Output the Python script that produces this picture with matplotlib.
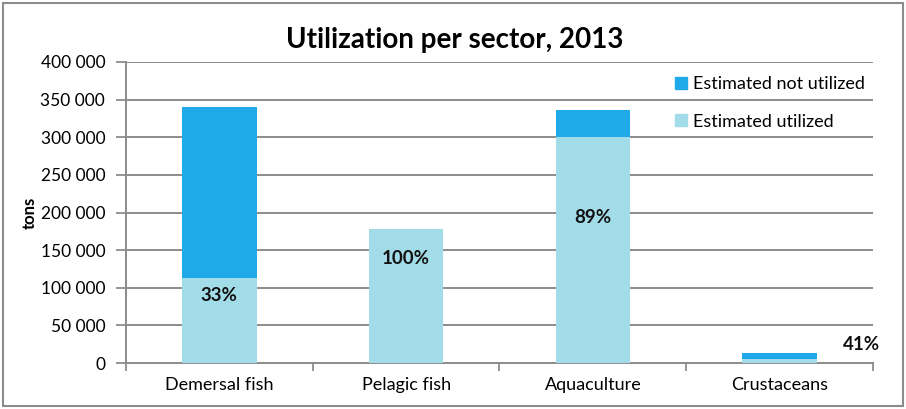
import matplotlib
matplotlib.use("Agg")
import matplotlib.pyplot as plt
from matplotlib.patches import Patch, Rectangle

categories = ["Demersal fish", "Pelagic fish", "Aquaculture", "Crustaceans"]
utilized = [113000, 178000, 300000, 5300]
not_utilized = [227000, 0, 36000, 7700]
pct_labels = ["33%", "100%", "89%", "41%"]
pct_x = [0, 1, 2, 3.44]
pct_y = [90000, 139500, 192700, 24000]
yticks = [0, 50000, 100000, 150000, 200000, 250000, 300000, 350000, 400000]

plt.rcParams['font.family'] = ['Lato', 'DejaVu Sans']

fig = plt.figure(figsize=(9.06, 4.09), dpi=100)
ax = fig.add_axes([126/906, 1-363/409, (873-126)/906, (363-62)/409])

dark = "#1FA9E8"
light = "#A2DCE8"
x = list(range(len(categories)))
ax.bar(x, utilized, width=0.4, color=light, zorder=3, label="Estimated utilized")
ax.bar(x, not_utilized, width=0.4, bottom=utilized, color=dark, zorder=3,
       label="Estimated not utilized")

for xi, yi, t in zip(pct_x, pct_y, pct_labels):
    ax.text(xi, yi, t, ha="center", va="center", fontsize=13.5, fontweight="bold",
            color="#111111", zorder=4, clip_on=False)

ax.set_xlim(-0.5, 3.5)
ax.set_ylim(0, 400000)
ax.set_yticks(yticks)
ax.set_yticklabels([f"{v:,}".replace(",", " ") for v in yticks], fontsize=12.5)
ax.set_xticks(x)
ax.set_xticklabels(categories, fontsize=13)
ax.set_xticks([-0.5, 0.5, 1.5, 2.5, 3.5], minor=True)
ax.tick_params(axis="x", which="major", length=0, pad=10)
ax.tick_params(axis="x", which="minor", length=6, color="#8C8C8C", width=1.3)
ax.tick_params(axis="y", length=7, color="#8C8C8C", width=1.3, pad=8)
ax.grid(axis="y", color="#8C8C8C", linewidth=1.4, zorder=0)
for s in ["top", "right"]:
    ax.spines[s].set_visible(False)
for s in ["left", "bottom"]:
    ax.spines[s].set_color("#8C8C8C")
    ax.spines[s].set_linewidth(1.4)

ax.set_ylabel("tons", fontsize=12, fontweight="bold", labelpad=2)
fig.text(455/906, 1-40/409, "Utilization per sector, 2013", ha="center", va="center",
         fontsize=20, fontweight="bold")

handles = [Patch(color=dark), Patch(color=light)]
leg = ax.legend(handles, ["Estimated not utilized", "Estimated utilized"],
                loc="upper left", bbox_to_anchor=(666/906, 1-67/409),
                bbox_transform=fig.transFigure, frameon=False, fontsize=13,
                handlelength=0.65, handleheight=0.65, handletextpad=0.35,
                labelspacing=1.2, borderpad=0)

fig.patches.append(Rectangle((3/906, 3/409), 900/906, 403/409, transform=fig.transFigure,
                             fill=False, edgecolor="#8C8C8C", linewidth=1.5))

fig.savefig("out.png", dpi=100)
